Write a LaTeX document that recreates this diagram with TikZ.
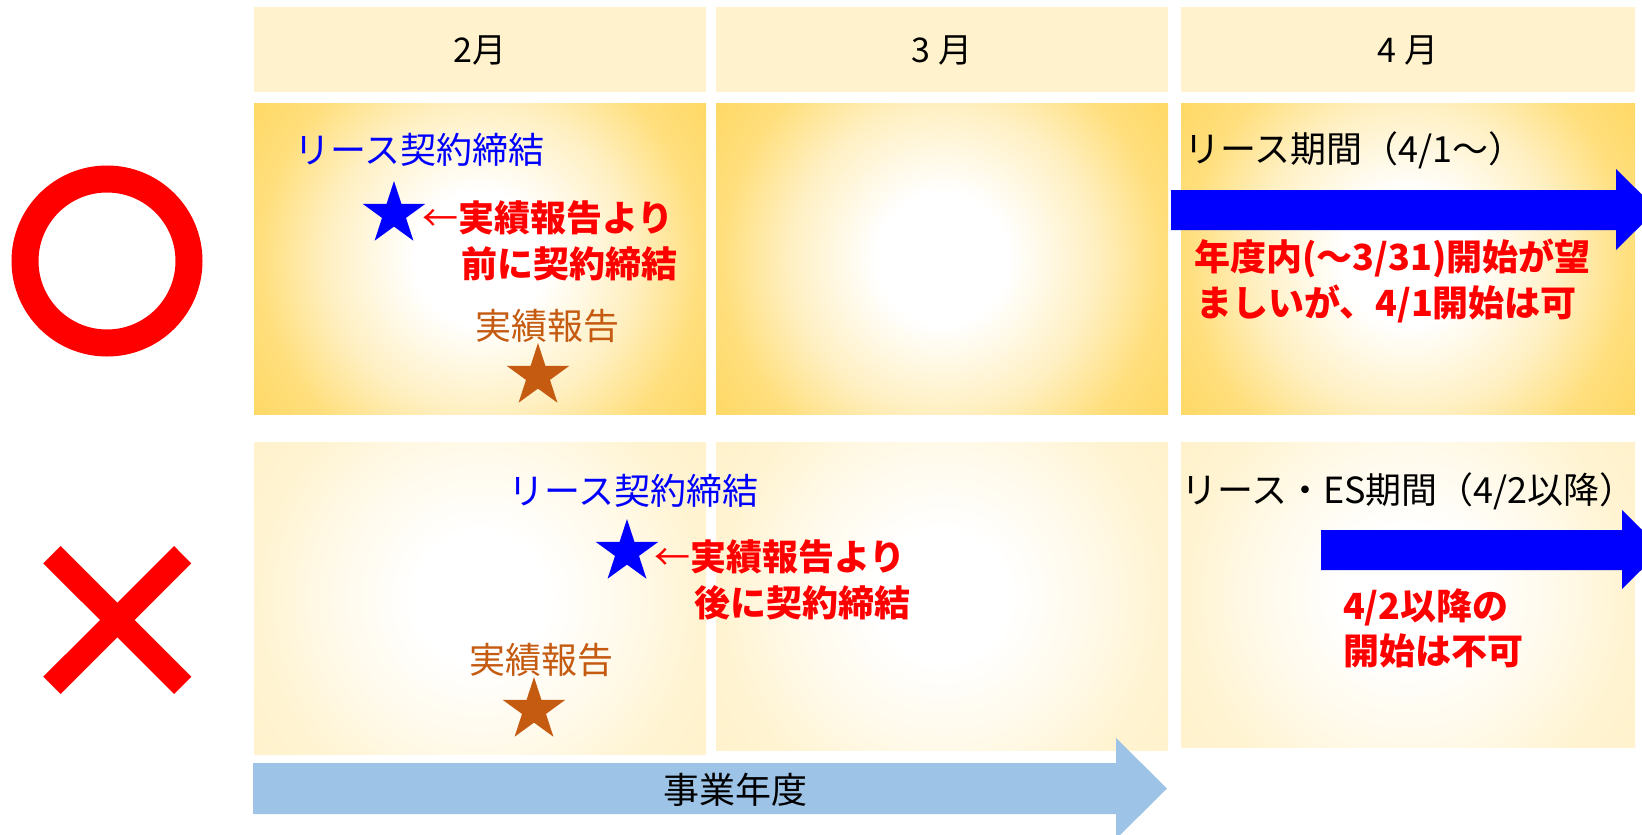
\documentclass[tikz,border=0pt]{standalone}
\usepackage{fontspec}
\setmainfont{Noto Sans CJK JP}
\usetikzlibrary{shapes.geometric}
\definecolor{gold}{HTML}{FFD966}
\definecolor{cream}{HTML}{FFF2CC}
\definecolor{jblue}{HTML}{0000FF}
\definecolor{jred}{HTML}{FF0000}
\definecolor{jorange}{HTML}{C55A11}
\definecolor{lblue}{HTML}{9DC3E6}
\pgfdeclareradialshading{goldrad}{\pgfpoint{0bp}{0bp}}{color(0bp)=(white); color(6bp)=(white); color(14bp)=(gold!40!white); color(20bp)=(gold!85!white); color(25bp)=(gold); color(50bp)=(gold)}
\pgfdeclareradialshading{creamrad}{\pgfpoint{0bp}{0bp}}{color(0bp)=(white); color(6bp)=(white); color(14bp)=(cream!45!white); color(20bp)=(cream!88!white); color(25bp)=(cream); color(50bp)=(cream)}
\begin{document}
\begin{tikzpicture}[x=1pt,y=-1pt,
  every node/.style={inner sep=0pt, outer sep=0pt},
  hdr/.style={fill=cream},
  goldbox/.style={shading=goldrad},
  creambox/.style={shading=creamrad},
  txt/.style={anchor=west, font=\fontsize{36}{40}\selectfont},
  bluetxt/.style={txt, text=jblue},
  redtxt/.style={txt, text=jred},
  redbold/.style={txt, text=jred, font=\fontsize{36}{40}\selectfont\bfseries},
  oratxt/.style={txt, text=jorange},
  blktxt/.style={txt, text=black},
  mon/.style={font=\fontsize{34}{40}\selectfont, text=black},
  starshape/.style={star, star points=5, star point ratio=2.618, minimum size=66pt, inner sep=0pt, draw=none},
  bigarrow/.style={fill=jblue},
  fyarrow/.style={fill=lblue},
  okring/.style={draw=jred, line width=27pt},
  ngcross/.style={draw=jred, line width=24.5pt, line cap=butt}
]
\useasboundingbox (0,0) rectangle (1642,835);
\clip (0,0) rectangle (1642,835);
\fill[white] (0,0) rectangle (1642,835);

% header row
\fill[hdr] (254,7) rectangle (706,92);
\fill[hdr] (716,7) rectangle (1168,92);
\fill[hdr] (1181,7) rectangle (1635,92);
\node[mon] (m2) at (480,50) {2月};
\node[mon] (m3) at (942,50) {3 月};
\node[mon] (m4) at (1408,50) {4 月};

% row 1 (circular gradients reaching the corners)
\begin{scope}\clip (254,103) rectangle (706,414);
  \shade[goldbox] (205.7,-15.8) rectangle (754.3,532.8);\end{scope}
\begin{scope}\clip (716,103) rectangle (1168,414);
  \shade[goldbox] (667.7,-15.8) rectangle (1216.3,532.8);\end{scope}
\begin{scope}\clip (1181,103) rectangle (1635,414);
  \shade[goldbox] (1132.8,-16.7) rectangle (1683.2,533.7);\end{scope}

% row 2
\begin{scope}\clip (254,442) rectangle (706,754);
  \shade[creambox] (205.4,323.4) rectangle (754.6,872.6);\end{scope}
\begin{scope}\clip (716,442) rectangle (1168,750);
  \shade[creambox] (668.5,322.5) rectangle (1215.5,869.5);\end{scope}
\begin{scope}\clip (1181,442) rectangle (1635,747);
  \shade[creambox] (1134.5,321) rectangle (1681.5,868);\end{scope}

% marks
\draw[okring] (107,261) circle [radius=82pt];
\draw[ngcross] (52,554.7) -- (182.7,685.3);
\draw[ngcross] (182.7,554.7) -- (52,685.3);

% arrows
\fill[bigarrow] (1171,190) -- (1616,190) -- (1616,169) -- (1657,209.5) -- (1616,250) -- (1616,230) -- (1171,230) -- cycle;
\fill[bigarrow] (1321,530) -- (1622,530) -- (1622,510) -- (1662,549.5) -- (1622,589) -- (1622,570) -- (1321,570) -- cycle;
\fill[fyarrow] (253,763) -- (1116,763) -- (1116,738) -- (1167,788.5) -- (1116,839) -- (1116,814) -- (253,814) -- cycle;
\node[mon] (fy) at (735,790) {\fontsize{36}{40}\selectfont 事業年度};

% row 1 contents
\node[bluetxt] (c1) at (294,150) {リース契約締結};
\node[starshape, fill=jblue] (s1) at (394,214) {};
\node[redtxt] (r1a) at (422,218) {←{\bfseries 実績報告より}};
\node[redbold] (r1b) at (461,264) {前に契約締結};
\node[oratxt] (j1) at (475,326) {実績報告};
\node[starshape, fill=jorange] (s2) at (538,376) {};

\node[blktxt] (p1) at (1184,150) {リース期間（4/1〜）};
\node[redbold] (q1a) at (1194,258) {年度内(〜3/31)開始が望};
\node[redbold] (q1b) at (1196,304) {ましいが、4/1開始は可};

% row 2 contents
\node[bluetxt] (c2) at (508,491) {リース契約締結};
\node[starshape, fill=jblue] (s3) at (627,552) {};
\node[redtxt] (r2a) at (654,557) {←{\bfseries 実績報告より}};
\node[redbold] (r2b) at (694,603) {後に契約締結};
\node[oratxt] (j2) at (469,660) {実績報告};
\node[starshape, fill=jorange] (s4) at (534,710) {};

\node[blktxt] (p2) at (1181,491) {リース・ES期間（4/2以降）};
\node[redbold] (q2a) at (1343,607) {4/2以降の};
\node[redbold] (q2b) at (1343,651) {開始は不可};
\end{tikzpicture}
\end{document}
